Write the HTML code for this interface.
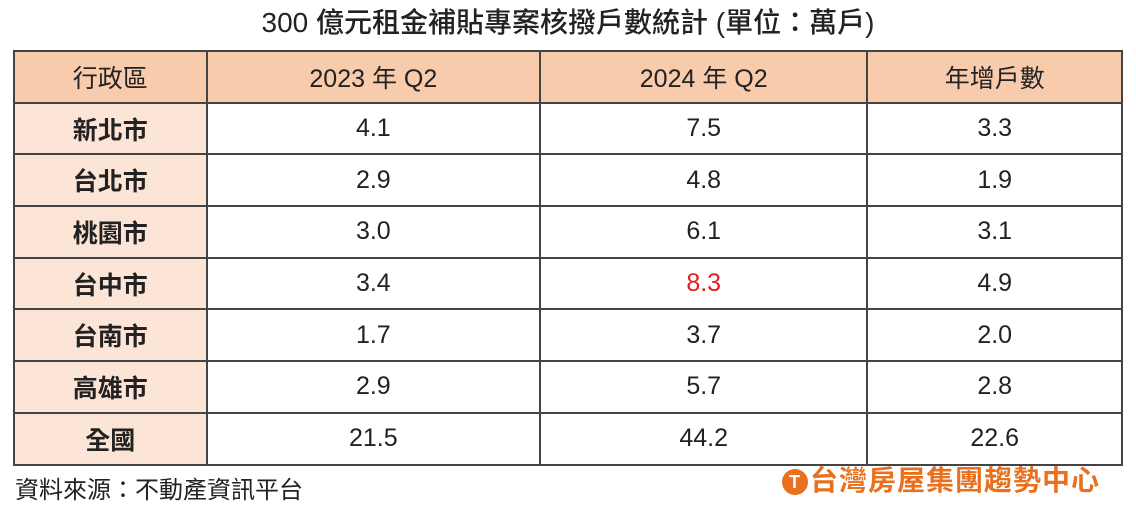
<!DOCTYPE html>
<html><head><meta charset="utf-8"><style>
body{margin:0;width:1136px;height:510px;background:#fff;font-family:"Liberation Sans","Noto Sans CJK TC",sans-serif;position:relative;overflow:hidden;color:#222}
.title{position:absolute;top:2px;left:0;width:1136px;text-align:center;font-size:28px;line-height:42px;font-weight:500}
table{position:absolute;left:13px;top:50px;border-collapse:collapse;width:1110px}
td{border:2px solid #444;height:49.7px;text-align:center;font-size:25px;padding:0}
tr.h td{background:#f8cbad}
td.c{background:#fce4d6;font-weight:bold}
.foot{position:absolute;left:15px;top:474px;font-size:24px;line-height:34px}
.logo{position:absolute;left:782px;top:464px;font-size:28px;font-weight:bold;color:#e8701e;line-height:34px;letter-spacing:1px}
.logo span{display:inline-block;width:26px;height:26px;border-radius:50%;background:#e8701e;color:#fff;font-size:18px;text-align:center;line-height:26px;vertical-align:2px;margin-right:2px}
</style></head><body>
<div class="title">300 億元租金補貼專案核撥戶數統計 (單位：萬戶)</div>
<table>
<colgroup><col style="width:193px"><col style="width:334px"><col style="width:328px"><col style="width:255px"></colgroup>
<tr class="h"><td>行政區</td><td>2023 年 Q2</td><td>2024 年 Q2</td><td>年增戶數</td></tr>
<tr><td class="c">新北市</td><td>4.1</td><td>7.5</td><td>3.3</td></tr>
<tr><td class="c">台北市</td><td>2.9</td><td>4.8</td><td>1.9</td></tr>
<tr><td class="c">桃園市</td><td>3.0</td><td>6.1</td><td>3.1</td></tr>
<tr><td class="c">台中市</td><td>3.4</td><td style="color:#e02020">8.3</td><td>4.9</td></tr>
<tr><td class="c">台南市</td><td>1.7</td><td>3.7</td><td>2.0</td></tr>
<tr><td class="c">高雄市</td><td>2.9</td><td>5.7</td><td>2.8</td></tr>
<tr><td class="c">全國</td><td>21.5</td><td>44.2</td><td>22.6</td></tr>
</table>
<div class="foot">資料來源：不動產資訊平台</div>
<div class="logo"><span>T</span>台灣房屋集團趨勢中心</div>
</body></html>
